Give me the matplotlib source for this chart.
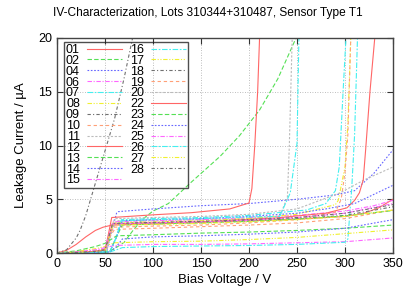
import matplotlib
matplotlib.use("Agg")
import matplotlib.pyplot as plt

plt.rcParams['font.family'] = ['Liberation Sans', 'DejaVu Sans']

labels = ["01", "02", "04", "06", "07", "08", "09", "10", "11", "12", "13", "14", "15",
          "16", "17", "18", "19", "20", "22", "23", "24", "25", "26", "27", "28"]

V01 = [0, 10, 20, 30, 40, 48, 55, 60, 100, 150, 200, 250, 300, 320, 335, 350]
I01 = [0, 0.25, 0.8, 1.5, 2.1, 2.4, 2.55, 2.6, 2.7, 2.85, 3.0, 3.15, 3.4, 3.7, 4.2, 5.0]
V02 = [0, 20, 40, 55, 60, 70, 80, 90, 100, 116, 140, 170, 190, 211, 230, 249]
I02 = [0, 0.05, 0.1, 0.2, 0.4, 1.0, 2.2, 3.2, 3.9, 4.6, 6.6, 9.0, 10.9, 13.3, 16.2, 20]
V04 = [0, 20, 40, 52, 57, 62, 64, 100, 150, 200, 250, 290, 310, 330, 350]
I04 = [0, 0.05, 0.15, 0.3, 2.0, 3.7, 3.85, 4.1, 4.4, 4.6, 5.0, 5.4, 5.8, 7.4, 9.6]
V06 = [0, 20, 40, 50, 55, 60, 100, 150, 200, 250, 300, 350]
I06 = [0, 0.1, 0.25, 0.4, 0.6, 0.7, 0.8, 0.8, 0.85, 0.95, 1.05, 1.4]
V07 = [0, 20, 40, 55, 62, 68, 100, 150, 200, 250, 300, 303, 307, 310, 313]
I07 = [0, 0.02, 0.05, 0.1, 0.3, 0.5, 0.6, 0.65, 0.7, 0.8, 1.0, 1.3, 6.0, 11.0, 20]
V08 = [0, 20, 40, 50, 55, 60, 100, 150, 200, 250, 300, 350]
I08 = [0, 0.15, 0.4, 0.6, 0.8, 0.95, 1.05, 1.1, 1.25, 1.45, 1.8, 2.15]
V09 = [0, 10, 20, 24, 30, 41, 50, 60, 70, 78, 80]
I09 = [0, 0.3, 1.4, 2.1, 3.5, 6.8, 9.5, 12.5, 16.3, 19.7, 20.5]
V10 = [0, 20, 40, 50, 55, 60, 100, 150, 200, 250, 300, 350]
I10 = [0, 0.05, 0.15, 0.25, 1.5, 2.2, 2.3, 2.45, 2.6, 2.8, 3.2, 4.0]
V11 = [0, 20, 40, 52, 57, 62, 100, 150, 200, 232, 240, 242, 245]
I11 = [0, 0.05, 0.15, 0.3, 2.0, 3.0, 3.05, 3.1, 3.2, 3.4, 5.2, 10, 20]
V12 = [0, 20, 40, 50, 53, 57, 100, 140, 180, 200, 203, 206, 209, 211]
I12 = [0, 0.05, 0.15, 0.25, 1.5, 3.3, 3.55, 3.75, 4.1, 4.65, 6, 10, 15, 20]
V13 = [0, 20, 40, 50, 57, 62, 100, 150, 200, 250, 300, 350]
I13 = [0, 0.2, 0.6, 0.9, 1.3, 1.6, 1.7, 1.85, 1.95, 2.1, 2.3, 2.6]
V14 = [0, 20, 40, 55, 62, 68, 100, 150, 200, 250, 300, 350]
I14 = [0, 0.02, 0.05, 0.1, 0.6, 1.3, 1.5, 1.6, 1.75, 1.95, 2.3, 3.1]
V15 = [0, 20, 40, 50, 54, 58, 100, 150, 200, 250, 300, 330, 350]
I15 = [0, 0.05, 0.15, 0.3, 1.5, 2.9, 3.0, 3.1, 3.3, 3.5, 3.9, 4.4, 4.9]
V16 = [0, 20, 40, 55, 62, 67, 100, 150, 200, 260, 280, 290, 294, 298, 301]
I16 = [0, 0.02, 0.05, 0.1, 1.5, 3.1, 3.2, 3.3, 3.5, 4.0, 4.6, 5.8, 8, 15, 20]
V17 = [0, 20, 40, 50, 54, 58, 100, 150, 200, 250, 290, 293, 300, 303, 306]
I17 = [0, 0.05, 0.15, 0.3, 1.5, 2.8, 2.9, 3.0, 3.2, 3.6, 4.5, 4.9, 8, 12, 20]
V18 = [0, 20, 40, 50, 54, 58, 100, 150, 200, 250, 300, 350]
I18 = [0, 0.05, 0.15, 0.3, 1.5, 2.7, 2.8, 2.9, 3.0, 3.2, 3.5, 4.3]
V19 = [0, 20, 40, 50, 54, 58, 100, 150, 200, 250, 290, 296, 300, 303, 306]
I19 = [0, 0.05, 0.15, 0.3, 1.2, 2.4, 2.5, 2.6, 2.8, 3.1, 3.8, 5.0, 7.5, 11, 20]
V20 = [0, 20, 40, 50, 55, 60, 100, 150, 200, 250, 295, 320, 350]
I20 = [0, 0.05, 0.15, 0.3, 1.8, 3.2, 3.3, 3.4, 3.6, 4.1, 5.6, 6.8, 8.0]
V22 = [0, 20, 40, 50, 54, 58, 100, 150, 227, 280, 302, 310, 315, 319, 321.5, 326, 331]
I22 = [0, 0.05, 0.15, 0.3, 1.5, 2.7, 2.8, 2.9, 3.25, 3.7, 4.2, 4.9, 5.6, 6.8, 9.6, 15, 20]
V23 = [0, 20, 40, 55, 62, 68, 100, 150, 200, 250, 300, 350]
I23 = [0, 0.02, 0.05, 0.1, 1.5, 2.6, 2.7, 2.8, 2.95, 3.15, 3.45, 3.95]
V24 = [0, 20, 40, 55, 62, 68, 100, 150, 200, 250, 280, 310, 350]
I24 = [0, 0.02, 0.05, 0.1, 1.5, 3.0, 3.1, 3.2, 3.4, 3.7, 4.1, 4.6, 6.3]
V25 = [0, 20, 40, 50, 54, 58, 100, 150, 200, 250, 300, 350]
I25 = [0, 0.1, 0.3, 0.5, 1.6, 2.7, 2.8, 2.9, 3.05, 3.3, 3.7, 4.6]
V26 = [0, 20, 40, 55, 62, 67, 100, 150, 200, 232, 243, 250, 252]
I26 = [0, 0.02, 0.05, 0.1, 1.5, 3.0, 3.1, 3.2, 3.35, 3.4, 5.6, 10.2, 20]
V27 = [0, 20, 40, 50, 54, 58, 100, 150, 200, 250, 300, 350]
I27 = [0, 0.05, 0.15, 0.3, 1.4, 2.6, 2.65, 2.75, 2.9, 3.1, 3.4, 4.0]
V28 = [0, 20, 40, 50, 54, 58, 100, 150, 200, 250, 300, 350]
I28 = [0, 0.05, 0.15, 0.3, 1.5, 2.75, 2.85, 2.95, 3.1, 3.3, 3.7, 4.5]

voltages = [V01, V02, V04, V06, V07, V08, V09, V10, V11, V12, V13, V14, V15,
            V16, V17, V18, V19, V20, V22, V23, V24, V25, V26, V27, V28]
currents = [I01, I02, I04, I06, I07, I08, I09, I10, I11, I12, I13, I14, I15,
            I16, I17, I18, I19, I20, I22, I23, I24, I25, I26, I27, I28]

xticks = [0, 50, 100, 150, 200, 250, 300, 350]
yticks = [0, 5, 10, 15, 20]

colors = ['#ff6666', '#55e055', '#6666ff', '#ff66ff', '#44f0f0',
          '#f0f030', '#707070', '#ffa077', '#bbbbbb']
dashes = [None, (4, 2), (1.5, 1.5), (4, 1.5, 1, 1.5), (5, 1.5, 1.5, 1.5),
          (4, 1.5, 1, 1.5, 1, 1.5), (3, 2, 1, 2), (3, 2.5), (2, 1.5)]

fig = plt.figure(figsize=(4.15, 2.91), dpi=100)
ax = fig.add_axes([57 / 415, 1 - 253 / 291, 336 / 415, 215 / 291])

for k, (v, i, lab) in enumerate(zip(voltages, currents, labels)):
    c = colors[k % 9]
    d = dashes[k % 9]
    line, = ax.plot(v, i, color=c, lw=0.8, label=lab)
    if d is not None:
        line.set_dashes(d)

ax.set_xlim(0, 350)
ax.set_ylim(0, 20)
ax.set_xticks(xticks)
ax.set_yticks(yticks)
ax.grid(True, color='#a8a8a8', linestyle=(0, (1, 2)), linewidth=0.6)
ax.tick_params(direction='in', top=True, right=True, length=4, labelsize=9,
               color='#333333')
for s in ax.spines.values():
    s.set_color('#444444')
    s.set_linewidth(1.0)

fig.text(0.5, 1 - 13 / 291, "IV-Characterization, Lots 310344+310487, Sensor Type T1",
         fontsize=8.6, ha='center', va='center')
ax.set_xlabel("Bias Voltage / V", fontsize=9.5, labelpad=3)
ax.set_ylabel("Leakage Current / µA", fontsize=9.5, labelpad=8)

leg = ax.legend(loc='upper left', bbox_to_anchor=(0.021, 0.981), ncol=2,
                markerfirst=False, fontsize=9, frameon=True, fancybox=False,
                facecolor='none', edgecolor='#222222', handlelength=2.8,
                labelspacing=-0.09, columnspacing=0.6, handletextpad=0.6,
                borderpad=0.15, borderaxespad=0)
leg.get_frame().set_linewidth(1.0)

fig.savefig("out.png", dpi=100)
